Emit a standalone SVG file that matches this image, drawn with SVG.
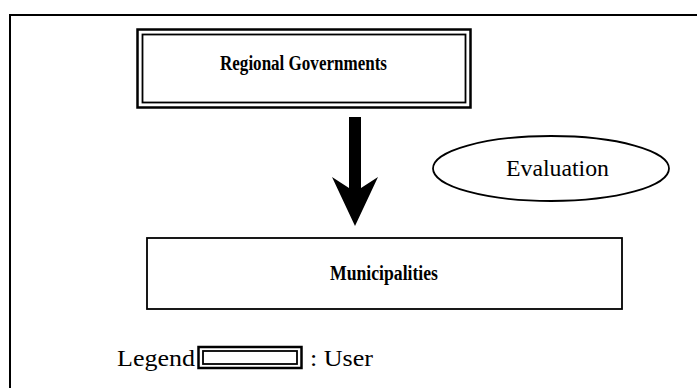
<svg xmlns="http://www.w3.org/2000/svg" width="697" height="388" viewBox="0 0 697 388">
<style>
.frame{fill:none;stroke:#000;stroke-width:2}
.dbl-o{fill:#fff;stroke:#000;stroke-width:2.5}
.dbl-i{fill:none;stroke:#000;stroke-width:1.8}
.box{fill:#fff;stroke:#000;stroke-width:1.8}
.t{font-family:"Liberation Serif","Times New Roman",serif;font-size:23px;fill:#000}
.b{font-weight:bold;font-size:20px}
</style>
<rect width="697" height="388" fill="#fff"/>
<path class="frame" d="M10,390 V15 H700"/>
<g id="regional">
<rect class="dbl-o" x="137.5" y="29.5" width="333" height="78"/>
<rect class="dbl-i" x="142.5" y="34.5" width="323" height="68"/>
<text class="t b" x="220" y="70" textLength="167" lengthAdjust="spacingAndGlyphs">Regional Governments</text>
</g>
<g id="connectors">
<path d="M349,117 H361 V188 L378,177 L355,226 L332,177 L349,188 Z" fill="#000"/>
</g>
<g id="evaluation">
<ellipse cx="551" cy="168.5" rx="118" ry="32.5" fill="#fff" stroke="#000" stroke-width="1.8"/>
<text class="t" x="506" y="176" textLength="103" lengthAdjust="spacingAndGlyphs">Evaluation</text>
</g>
<g id="municipalities">
<rect class="box" x="147" y="238" width="475" height="71"/>
<text class="t b" x="330" y="280" textLength="108" lengthAdjust="spacingAndGlyphs">Municipalities</text>
</g>
<g id="legend">
<text class="t" x="117" y="366" textLength="78" lengthAdjust="spacingAndGlyphs">Legend</text>
<rect class="dbl-o" x="198.5" y="347" width="103" height="21"/>
<rect class="dbl-i" x="203" y="351" width="94" height="13"/>
<text class="t" x="310" y="366" textLength="63" lengthAdjust="spacingAndGlyphs">: User</text>
</g>
</svg>
